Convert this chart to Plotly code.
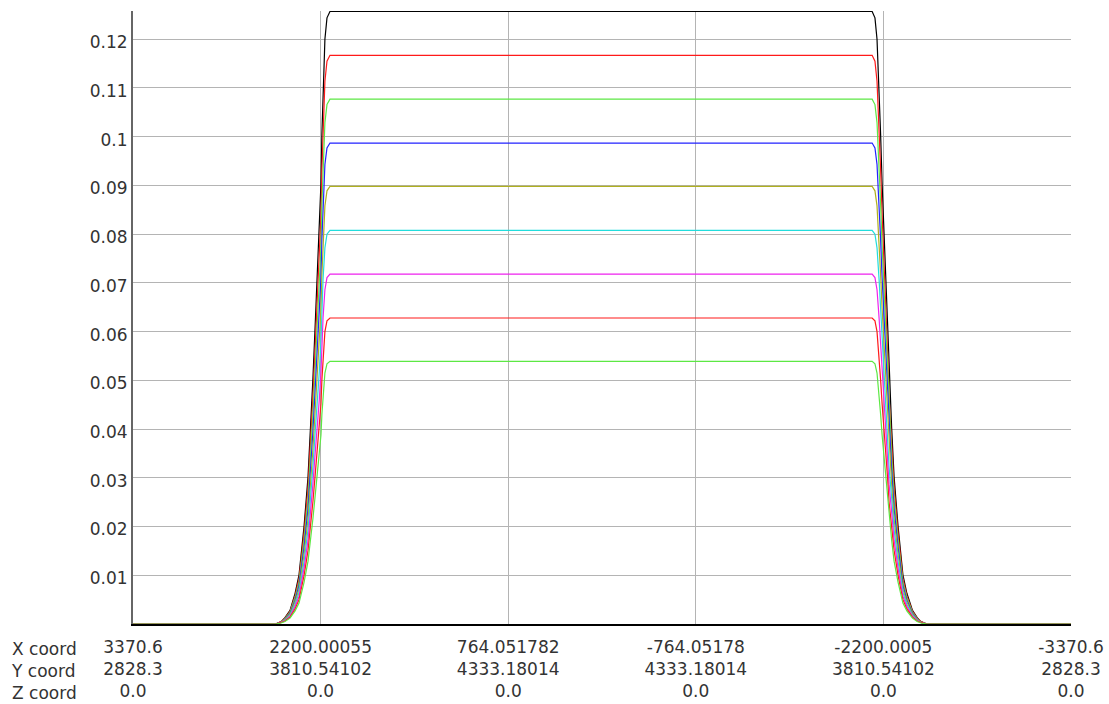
import plotly.graph_objects as go

# Distance along the path (section index units); 0..5
x_pos = [0, 0.76, 0.79, 0.81, 0.837, 0.864, 0.885, 0.912, 0.933, 0.947,
         0.959, 0.970, 0.982, 0.993, 1.002, 1.007, 1.013, 1.023, 1.034, 1.05,
         3.94, 3.955, 3.966, 3.977, 3.985, 3.993, 4.003, 4.014, 4.022, 4.030,
         4.044, 4.057, 4.078, 4.104, 4.125, 4.155, 4.18, 4.20, 4.232, 5]

y_black = [0, 0, 0.0005, 0.0013, 0.0028, 0.0063, 0.0101, 0.0201, 0.0302, 0.0402,
           0.0503, 0.0603, 0.0704, 0.0804, 0.0905, 0.1006, 0.1100, 0.1200, 0.1244, 0.1257,
           0.1257, 0.1244, 0.1200, 0.1100, 0.1006, 0.0905, 0.0804, 0.0704, 0.0603, 0.0503,
           0.0402, 0.0302, 0.0201, 0.0101, 0.0063, 0.0028, 0.0013, 0.0005, 0, 0]
y_red = [0, 0, 0.0005, 0.0012, 0.0026, 0.0058, 0.0093, 0.0187, 0.0280, 0.0373,
         0.0467, 0.0560, 0.0654, 0.0747, 0.0840, 0.0934, 0.1021, 0.1114, 0.1155, 0.1167,
         0.1167, 0.1155, 0.1114, 0.1021, 0.0934, 0.0840, 0.0747, 0.0654, 0.0560, 0.0467,
         0.0373, 0.0280, 0.0187, 0.0093, 0.0058, 0.0026, 0.0012, 0.0005, 0, 0]
y_green = [0, 0, 0.0004, 0.0011, 0.0024, 0.0054, 0.0086, 0.0172, 0.0258, 0.0345,
           0.0431, 0.0517, 0.0603, 0.0689, 0.0775, 0.0862, 0.0942, 0.1029, 0.1066, 0.1077,
           0.1077, 0.1066, 0.1029, 0.0942, 0.0862, 0.0775, 0.0689, 0.0603, 0.0517, 0.0431,
           0.0345, 0.0258, 0.0172, 0.0086, 0.0054, 0.0024, 0.0011, 0.0004, 0, 0]
y_blue = [0, 0, 0.0004, 0.0010, 0.0022, 0.0049, 0.0079, 0.0158, 0.0237, 0.0316,
          0.0395, 0.0474, 0.0553, 0.0632, 0.0711, 0.0790, 0.0864, 0.0943, 0.0977, 0.0987,
          0.0987, 0.0977, 0.0943, 0.0864, 0.0790, 0.0711, 0.0632, 0.0553, 0.0474, 0.0395,
          0.0316, 0.0237, 0.0158, 0.0079, 0.0049, 0.0022, 0.0010, 0.0004, 0, 0]
y_olive = [0, 0, 0.0004, 0.0009, 0.0020, 0.0045, 0.0072, 0.0144, 0.0216, 0.0287,
           0.0359, 0.0431, 0.0503, 0.0575, 0.0647, 0.0718, 0.0786, 0.0858, 0.0889, 0.0898,
           0.0898, 0.0889, 0.0858, 0.0786, 0.0718, 0.0647, 0.0575, 0.0503, 0.0431, 0.0359,
           0.0287, 0.0216, 0.0144, 0.0072, 0.0045, 0.0020, 0.0009, 0.0004, 0, 0]
y_cyan = [0, 0, 0.0003, 0.0008, 0.0018, 0.0040, 0.0065, 0.0129, 0.0194, 0.0259,
          0.0323, 0.0388, 0.0452, 0.0517, 0.0582, 0.0646, 0.0707, 0.0772, 0.0800, 0.0808,
          0.0808, 0.0800, 0.0772, 0.0707, 0.0646, 0.0582, 0.0517, 0.0452, 0.0388, 0.0323,
          0.0259, 0.0194, 0.0129, 0.0065, 0.0040, 0.0018, 0.0008, 0.0003, 0, 0]
y_magenta = [0, 0, 0.0003, 0.0007, 0.0016, 0.0036, 0.0057, 0.0115, 0.0172, 0.0230,
             0.0287, 0.0345, 0.0402, 0.0460, 0.0517, 0.0574, 0.0628, 0.0686, 0.0711, 0.0718,
             0.0718, 0.0711, 0.0686, 0.0628, 0.0574, 0.0517, 0.0460, 0.0402, 0.0345, 0.0287,
             0.0230, 0.0172, 0.0115, 0.0057, 0.0036, 0.0016, 0.0007, 0.0003, 0, 0]
y_red2 = [0, 0, 0.0003, 0.0006, 0.0014, 0.0031, 0.0050, 0.0100, 0.0151, 0.0201,
          0.0251, 0.0301, 0.0352, 0.0402, 0.0452, 0.0502, 0.0550, 0.0600, 0.0622, 0.0628,
          0.0628, 0.0622, 0.0600, 0.0550, 0.0502, 0.0452, 0.0402, 0.0352, 0.0301, 0.0251,
          0.0201, 0.0151, 0.0100, 0.0050, 0.0031, 0.0014, 0.0006, 0.0003, 0, 0]
y_green2 = [0, 0, 0.0002, 0.0005, 0.0012, 0.0027, 0.0043, 0.0086, 0.0129, 0.0172,
            0.0216, 0.0259, 0.0302, 0.0345, 0.0388, 0.0431, 0.0472, 0.0515, 0.0534, 0.0539,
            0.0539, 0.0534, 0.0515, 0.0472, 0.0431, 0.0388, 0.0345, 0.0302, 0.0259, 0.0216,
            0.0172, 0.0129, 0.0086, 0.0043, 0.0027, 0.0012, 0.0005, 0.0002, 0, 0]

series = [y_black, y_red, y_green, y_blue, y_olive, y_cyan, y_magenta, y_red2, y_green2]
colors = ["#000000", "#ff1a1a", "#5ce844", "#2222ff", "#b0b020",
          "#22dddd", "#ee22ee", "#ff1a1a", "#5ce844"]

# Tick labels along the path
x_ticks = [0, 1, 2, 3, 4, 5]
x_coord = ["3370.6", "2200.00055", "764.051782", "-764.05178", "-2200.0005", "-3370.6"]
y_coord = ["2828.3", "3810.54102", "4333.18014", "4333.18014", "3810.54102", "2828.3"]
z_coord = ["0.0", "0.0", "0.0", "0.0", "0.0", "0.0"]
y_ticks = [0.01, 0.02, 0.03, 0.04, 0.05, 0.06, 0.07, 0.08, 0.09, 0.1, 0.11, 0.12]
y_ticktext = ["0.01", "0.02", "0.03", "0.04", "0.05", "0.06", "0.07", "0.08",
              "0.09", "0.1", "0.11", "0.12"]

FONT = "DejaVu Sans"
L, R, T, B = 133, 38, 11, 80
PW = 1109 - L - R
PH = 704 - T - B

fig = go.Figure()
for ys, c in zip(series, colors):
    fig.add_trace(go.Scatter(x=x_pos, y=ys, mode="lines",
                             line=dict(color=c, width=1.2),
                             hoverinfo="skip", showlegend=False))

fig.update_layout(
    width=1109, height=704,
    margin=dict(l=L, r=R, t=T, b=B, pad=0),
    paper_bgcolor="white", plot_bgcolor="white",
    font=dict(family=FONT, size=17, color="#333333"),
    xaxis=dict(range=[0, 5], tickmode="array", tickvals=x_ticks,
               ticktext=[f"{a}<br>{b}<br>{c}" for a, b, c in zip(x_coord, y_coord, z_coord)],
               showgrid=True, gridcolor="#b4b4b4", gridwidth=1,
               showline=True, linecolor="#000000", linewidth=1.5,
               zeroline=False, ticks="", ticklabelstandoff=7, automargin=False,
               tickfont=dict(family=FONT, size=17, color="#333333")),
    yaxis=dict(range=[0, 0.1258], tickmode="array", tickvals=y_ticks, ticktext=y_ticktext,
               showgrid=True, gridcolor="#b4b4b4", gridwidth=1,
               showline=True, linecolor="#666666", linewidth=2,
               zeroline=False, ticks="", ticklabelstandoff=0, ticklabelshift=3,
               automargin=False,
               tickfont=dict(family=FONT, size=17, color="#333333")),
    annotations=[dict(text="X coord<br>Y coord<br>Z coord", xref="paper", yref="paper",
                      x=(10 - L) / PW, y=-14.4 / PH, xanchor="left", yanchor="top",
                      align="left", showarrow=False, borderpad=0,
                      font=dict(family=FONT, size=17, color="#333333"))],
)

fig.write_html("out.html")
